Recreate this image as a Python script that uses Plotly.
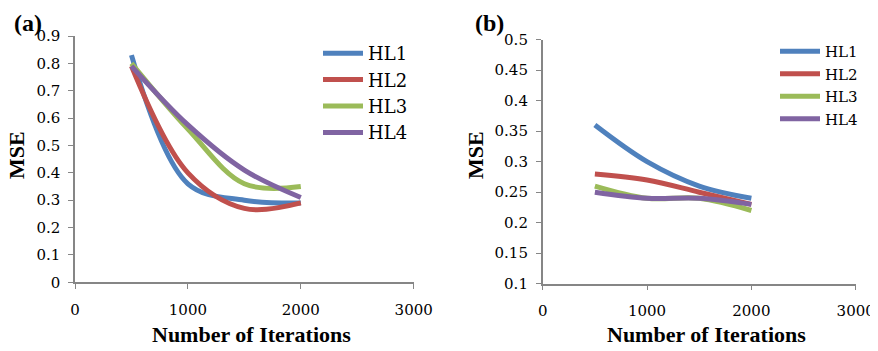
import plotly.graph_objects as go

iterations = [500, 1000, 1500, 2000]
series_names = ["HL1", "HL2", "HL3", "HL4"]
colors = ["#4F81BD", "#C0504D", "#9BBB59", "#8064A2"]

mse_a = {
    "HL1": [0.83, 0.36, 0.30, 0.29],
    "HL2": [0.79, 0.40, 0.27, 0.29],
    "HL3": [0.80, 0.56, 0.36, 0.35],
    "HL4": [0.79, 0.575, 0.41, 0.31],
}
mse_b = {
    "HL1": [0.36, 0.30, 0.26, 0.24],
    "HL2": [0.28, 0.27, 0.25, 0.23],
    "HL3": [0.26, 0.24, 0.24, 0.22],
    "HL4": [0.25, 0.24, 0.24, 0.23],
}
x_title = "Number of Iterations"
y_title = "MSE"
panel_labels = ["(a)", "(b)"]

BOLD_FONT = "Liberation Serif"
REG_FONT = "DejaVu Serif"
W, H = 870, 343
OX, OY = 8, 8


def dx(p):
    return (p - OX) / W


def dy(p):
    return 1 - (p - OY) / H


fig = go.Figure()
for name, c in zip(series_names, colors):
    fig.add_trace(go.Scatter(x=iterations, y=mse_a[name], name=name, mode="lines",
                             line=dict(color=c, width=5, shape="spline", smoothing=1.0),
                             xaxis="x", yaxis="y", legend="legend"))
for name, c in zip(series_names, colors):
    fig.add_trace(go.Scatter(x=iterations, y=mse_b[name], name=name, mode="lines",
                             line=dict(color=c, width=5, shape="spline", smoothing=1.0),
                             xaxis="x2", yaxis="y2", legend="legend2"))

axis_common = dict(showgrid=False, zeroline=False, showline=True, linecolor="#868686",
                   linewidth=1.5, ticks="outside", ticklen=5, tickcolor="#868686",
                   automargin=False)
tfont = dict(family=BOLD_FONT, size=22, color="black", weight="bold")
tick = dict(family=REG_FONT, size=15, color="black")

annots = []
for lbl, lx in zip(panel_labels, [12, 473]):
    annots.append(dict(text=lbl, x=dx(lx), y=1.0, xref="paper", yref="paper", xanchor="left",
                       yanchor="top", showarrow=False,
                       font=dict(family=BOLD_FONT, size=24, color="black", weight="bold")))
for cx in [251, 706]:
    annots.append(dict(text=x_title, x=dx(cx), y=dy(334), xref="paper", yref="paper",
                       xanchor="center", yanchor="middle", showarrow=False, font=tfont))
for cx in [16, 475]:
    annots.append(dict(text=y_title, x=dx(cx), y=dy(155), xref="paper", yref="paper",
                       xanchor="center", yanchor="middle", textangle=-90, showarrow=False, font=tfont))

fig.update_layout(
    width=W, height=H, margin=dict(l=0, r=0, t=0, b=0),
    font=dict(family=REG_FONT, size=15, color="black"),
    paper_bgcolor="white", plot_bgcolor="white",
    xaxis=dict(domain=[dx(75), dx(413.7)], range=[0, 3000], tickvals=[0, 1000, 2000, 3000],
               tickfont=tick, ticklabelstandoff=8, anchor="y", **axis_common),
    yaxis=dict(domain=[dy(282.3), dy(36)], range=[0, 0.9], dtick=0.1, tickformat="~g",
               tickfont=tick, ticklabelstandoff=5, anchor="x", **axis_common),
    xaxis2=dict(domain=[dx(542.7), dx(855.7)], range=[0, 3000], tickvals=[0, 1000, 2000, 3000],
                tickfont=tick, ticklabelstandoff=8, anchor="y2", **axis_common),
    yaxis2=dict(domain=[dy(283.7), dy(39.7)], range=[0.1, 0.5], dtick=0.05, tickformat="~g",
                tickfont=tick, ticklabelstandoff=5, anchor="x2", **axis_common),
    legend=dict(x=dx(318), y=dy(35), xanchor="left", yanchor="top", bgcolor="rgba(0,0,0,0)",
                font=dict(family=REG_FONT, size=18, color="black"), tracegroupgap=0, itemwidth=40),
    legend2=dict(x=dx(775), y=dy(35), xanchor="left", yanchor="top", bgcolor="rgba(0,0,0,0)",
                 font=dict(family=REG_FONT, size=15, color="black"), tracegroupgap=0, itemwidth=40),
    annotations=annots,
)
fig.write_html("out.html")
